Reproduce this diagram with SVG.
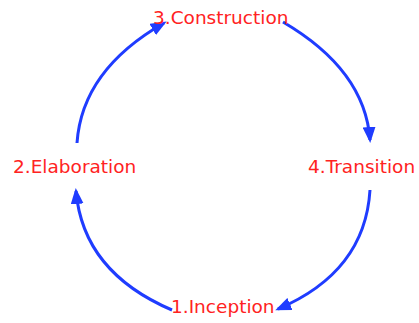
<svg xmlns="http://www.w3.org/2000/svg" width="419" height="323" viewBox="0 0 419 323">
<style>
.lbl{font-family:"DejaVu Sans","Verdana",sans-serif;font-size:18.5px;fill:#ff2222}
.arc{fill:none;stroke:#1f3cff;stroke-width:3}
</style>
<defs>
<marker id="ah" markerUnits="userSpaceOnUse" markerWidth="17" markerHeight="13" viewBox="0 0 17 13" refX="13" refY="6.5" orient="auto">
<path d="M0,0 L16,6.5 L0,13 Z" fill="#1f3cff"/>
</marker>
</defs>
<rect width="419" height="323" fill="#ffffff"/>
<g id="connectors">
<path class="arc" d="M77,143 Q82,70 164,23" marker-end="url(#ah)"/>
<path class="arc" d="M283,22 Q365,70 370,140" marker-end="url(#ah)"/>
<path class="arc" d="M370,190 Q365,272 278,309" marker-end="url(#ah)"/>
<path class="arc" d="M172,310 Q83,272 76,191" marker-end="url(#ah)"/>
</g>
<g id="construction"><text class="lbl" x="153" y="24">3.Construction</text></g>
<g id="elaboration"><text class="lbl" x="13" y="173">2.Elaboration</text></g>
<g id="transition"><text class="lbl" x="308" y="173">4.Transition</text></g>
<g id="inception"><text class="lbl" x="171" y="313">1.Inception</text></g>
</svg>
